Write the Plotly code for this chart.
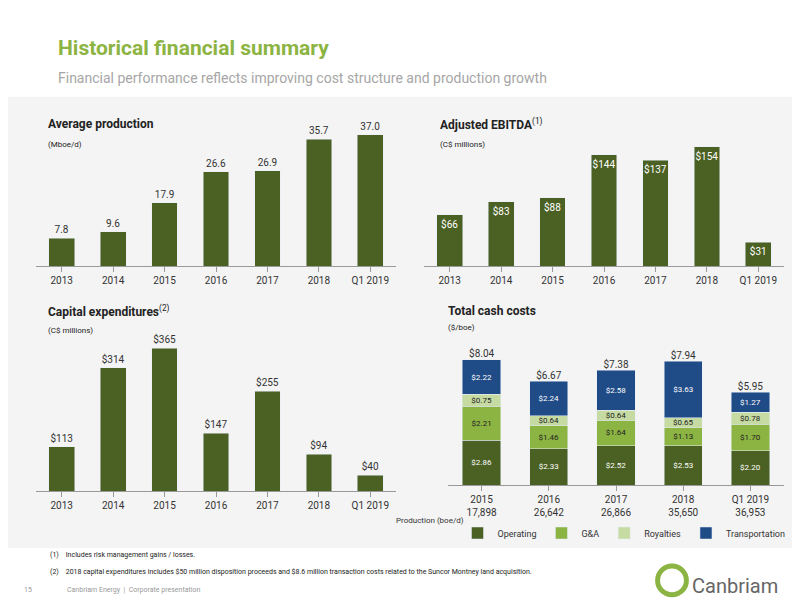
import plotly.graph_objects as go

# data
prod_years = ['2013', '2014', '2015', '2016', '2017', '2018', 'Q1 2019']
avg_production = [7.8, 9.6, 17.9, 26.6, 26.9, 35.7, 37.0]
adj_ebitda = [66, 83, 88, 144, 137, 154, 31]
capex = [113, 314, 365, 147, 255, 94, 40]

cost_years = ['2015', '2016', '2017', '2018', 'Q1 2019']
production_boed = ['17,898', '26,642', '26,866', '35,650', '36,953']
operating = [2.86, 2.33, 2.52, 2.53, 2.20]
g_and_a = [2.21, 1.46, 1.64, 1.13, 1.70]
royalties = [0.75, 0.64, 0.64, 0.65, 0.78]
transportation = [2.22, 2.24, 2.58, 3.63, 1.27]
totals = [8.04, 6.67, 7.38, 7.94, 5.95]

DARK = '#4b6124'
GA = '#8cb443'
ROY = '#c6dba2'
TRANS = '#1f4b87'
FONT = 'Roboto, Arial'

fig = go.Figure()

fig.add_trace(go.Bar(x=prod_years, y=avg_production, marker_color=DARK, width=0.5,
                     text=[f'{v:.1f}' for v in avg_production], textposition='outside',
                     textfont=dict(size=10, color='#333'), cliponaxis=False,
                     xaxis='x', yaxis='y', showlegend=False))
fig.add_trace(go.Bar(x=prod_years, y=adj_ebitda, marker_color=DARK, width=0.5,
                     text=[f'${v}' for v in adj_ebitda], textposition='inside', textangle=0,
                     insidetextanchor='end', textfont=dict(size=10, color='white'),
                     constraintext='none', xaxis='x2', yaxis='y2', showlegend=False))
fig.add_trace(go.Bar(x=prod_years, y=capex, marker_color=DARK, width=0.5,
                     text=[f'${v}' for v in capex], textposition='outside',
                     textfont=dict(size=10, color='#333'), cliponaxis=False,
                     xaxis='x3', yaxis='y3', showlegend=False))

cost_x = [f'{y}<br>{p}' for y, p in zip(cost_years, production_boed)]
for name, vals, col, tcol in [('Operating', operating, DARK, 'white'),
                              ('G&A', g_and_a, GA, '#222'),
                              ('Royalties', royalties, ROY, '#222'),
                              ('Transportation', transportation, TRANS, 'white')]:
    fig.add_trace(go.Bar(x=cost_x, y=vals, name=name, marker_color=col, width=0.57,
                         text=[f'${v:.2f}' for v in vals], textposition='inside', textangle=0,
                         insidetextanchor='middle', textfont=dict(size=8, color=tcol),
                         constraintext='none', xaxis='x4', yaxis='y4'))
fig.add_trace(go.Scatter(x=cost_x, y=totals, mode='text', text=[f'${v:.2f}' for v in totals],
                         textposition='top center', textfont=dict(size=10, color='#333'),
                         xaxis='x4', yaxis='y4', showlegend=False, cliponaxis=False))

xstyle = dict(showline=True, linecolor='#999', ticks='outside', tickcolor='#999',
              tickfont=dict(size=10, color='#333'), showgrid=False)
ystyle = dict(visible=False, showgrid=False)
fig.update_layout(
    barmode='stack',
    width=800, height=600, margin=dict(l=0, r=0, t=0, b=0, autoexpand=False),
    paper_bgcolor='white', plot_bgcolor='rgba(0,0,0,0)',
    font=dict(family=FONT),
    xaxis=dict(domain=[0.035, 0.485], anchor='y', **xstyle),
    yaxis=dict(domain=[0.57, 0.84], range=[0, 45.7], **ystyle),
    xaxis2=dict(domain=[0.52, 0.97], anchor='y2', **xstyle),
    yaxis2=dict(domain=[0.57, 0.84], range=[0, 209.6], **ystyle),
    xaxis3=dict(domain=[0.035, 0.485], anchor='y3', **xstyle),
    yaxis3=dict(domain=[0.195, 0.465], range=[0, 413.5], **ystyle),
    xaxis4=dict(domain=[0.55, 0.97], anchor='y4', **xstyle),
    yaxis4=dict(domain=[0.205, 0.475], range=[0, 10.4], **ystyle),
    legend=dict(orientation='h', x=0.77, y=0.125, xanchor='center', yanchor='middle',
                bgcolor='rgba(0,0,0,0)', font=dict(size=9, color='#333'),
                traceorder='normal', itemwidth=30),
    shapes=[dict(type='rect', xref='paper', yref='paper', x0=0, x1=1, y0=0.1, y1=0.852,
                 fillcolor='#f4f4f4', line_width=0, layer='below'),
            dict(type='circle', xref='paper', yref='paper', x0=0.812, x1=0.848, y0=0.022, y1=0.07,
                 line=dict(color='#8cb443', width=5))],
)

def ann(x, y, text, size, color='#222', **kw):
    fig.add_annotation(x=x / 800, y=1 - y / 600, xref='paper', yref='paper', text=text,
                       showarrow=False, xanchor=kw.pop('xanchor', 'left'), yanchor='middle',
                       font=dict(size=size, color=color, family=FONT), **kw)

ann(48, 40, '<b>Historical financial summary</b>', 21, '#8cb443')
ann(48, 70, 'Financial performance reflects improving cost structure and production growth', 14, '#a6a6a6')
ann(38, 116, '<b>Average production</b>', 12)
ann(38, 136, '(Mboe/d)', 8)
ann(430, 116, '<b>Adjusted EBITDA</b><sup>(1)</sup>', 12)
ann(430, 136, '(C$ millions)', 8)
ann(38, 303, '<b>Capital expenditures</b><sup>(2)</sup>', 12)
ann(38, 322, '(C$ millions)', 8)
ann(438, 303, '<b>Total cash costs</b>', 12)
ann(438, 319, '($/boe)', 8)
ann(458, 512, 'Production (boe/d)', 8, '#333', xanchor='right')
ann(40, 547, '(1)&nbsp;&nbsp;&nbsp;&nbsp;Includes risk management gains / losses.', 7)
ann(40, 564, '(2)&nbsp;&nbsp;&nbsp;&nbsp;2018 capital expenditures includes $50 million disposition proceeds and $8.6 million transaction costs related to the Suncor Montney land acquisition.', 7)
ann(14, 582, '15', 7, '#999')
ann(57, 582, 'Canbriam Energy  |  Corporate presentation', 7, '#999')
ann(682, 578, 'Canbriam', 20, '#666')

fig.write_html('out.html')
